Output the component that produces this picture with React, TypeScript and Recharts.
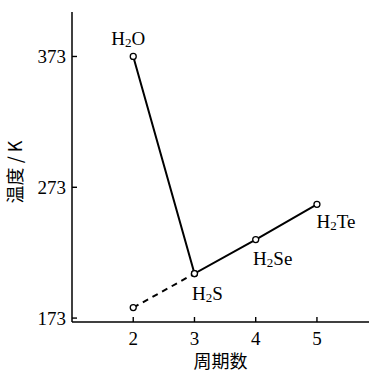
import React from "react";
import { LineChart, Line, XAxis, YAxis } from "recharts";

// 周期 (period) and boiling points in K
const periods = [2, 3, 4, 5];
const boilingPoints = [373, 207, 233, 260];
const compounds = [
  { base: "H", sub: "2", rest: "O" },
  { base: "H", sub: "2", rest: "S" },
  { base: "H", sub: "2", rest: "Se" },
  { base: "H", sub: "2", rest: "Te" },
];
// extrapolated (expected) value for period 2, dashed
const trendPeriods = [2, 3];
const trendValues = [181, 207];
const yTicks = [173, 273, 373];

const mainData = periods.map((p, i) => ({ period: p, temp: boilingPoints[i] }));
const trendData = trendPeriods.map((p, i) => ({ period: p, temp: trendValues[i] }));

const serif = "'Liberation Serif', 'DejaVu Serif', serif";
const cjk = "'Noto Sans CJK SC', sans-serif";

// label offsets relative to each point
const labelOffsets = [
  [-5, -18],
  [13, 19],
  [17, 18],
  [19, 17],
];

const YTick = ({ x, y, payload }: any) => (
  <g>
    <line x1={x + 6} x2={x + 11} y1={y} y2={y} stroke="#000" strokeWidth={1.4} />
    <text x={x} y={y} textAnchor="end" dominantBaseline="central" fontFamily={serif} fontSize={19} fill="#000">
      {payload.value}
    </text>
  </g>
);

const XTick = ({ x, y, payload }: any) => (
  <g>
    <line x1={x} x2={x} y1={y - 6} y2={y - 11} stroke="#000" strokeWidth={1.4} />
    <text x={x} y={y + 10} textAnchor="middle" dominantBaseline="central" fontFamily={serif} fontSize={19} fill="#000">
      {payload.value}
    </text>
  </g>
);

const renderDot = (props: any) => (
  <circle key={`dot-${props.index}`} cx={props.cx} cy={props.cy} r={3} fill="#fff" stroke="#000" strokeWidth={1.3} />
);

const renderLabel = (props: any) => {
  const { x, y, index } = props;
  const c = compounds[index];
  const [dx, dy] = labelOffsets[index];
  return (
    <text
      key={`lbl-${index}`}
      x={x + dx}
      y={y + dy}
      textAnchor="middle"
      dominantBaseline="central"
      fontFamily={serif}
      fontSize={19}
      fill="#000"
    >
      <tspan>{c.base}</tspan>
      <tspan fontSize={13} dy={4}>{c.sub}</tspan>
      <tspan dy={-4}>{c.rest}</tspan>
    </text>
  );
};

export default function App() {
  return (
    <div style={{ position: "absolute", top: 0, left: 0, background: "#fff" }}>
      <LineChart width={369} height={373} margin={{ top: 12, right: 0, left: 0, bottom: 0 }}>
        <XAxis
          dataKey="period"
          type="number"
          domain={[1, 5.85]}
          ticks={periods}
          allowDataOverflow
          height={51}
          tickSize={0}
          tickMargin={6}
          tick={<XTick />}
          axisLine={{ stroke: "#000", strokeWidth: 1.5 }}
          label={({ viewBox }: any) => (
            <text
              x={viewBox.x + viewBox.width / 2}
              y={360}
              textAnchor="middle"
              dominantBaseline="central"
              fontFamily={cjk}
              fontSize={18}
              fill="#000"
            >
              周期数
            </text>
          )}
        />
        <YAxis
          type="number"
          domain={[170, 407]}
          ticks={yTicks}
          allowDataOverflow
          width={72}
          tickSize={0}
          tickMargin={6}
          tick={<YTick />}
          axisLine={{ stroke: "#000", strokeWidth: 1.5 }}
          label={() => (
            <text
              x={14}
              y={172}
              transform="rotate(-90 14 172)"
              textAnchor="middle"
              dominantBaseline="central"
              fontFamily={cjk}
              fontSize={18}
              fill="#000"
            >
              温度 / K
            </text>
          )}
        />
        <Line
          data={trendData}
          dataKey="temp"
          stroke="#000"
          strokeWidth={2}
          strokeDasharray="6 5"
          dot={renderDot}
          isAnimationActive={false}
        />
        <Line
          data={mainData}
          dataKey="temp"
          stroke="#000"
          strokeWidth={2}
          dot={renderDot}
          label={renderLabel}
          isAnimationActive={false}
        />
      </LineChart>
    </div>
  );
}
